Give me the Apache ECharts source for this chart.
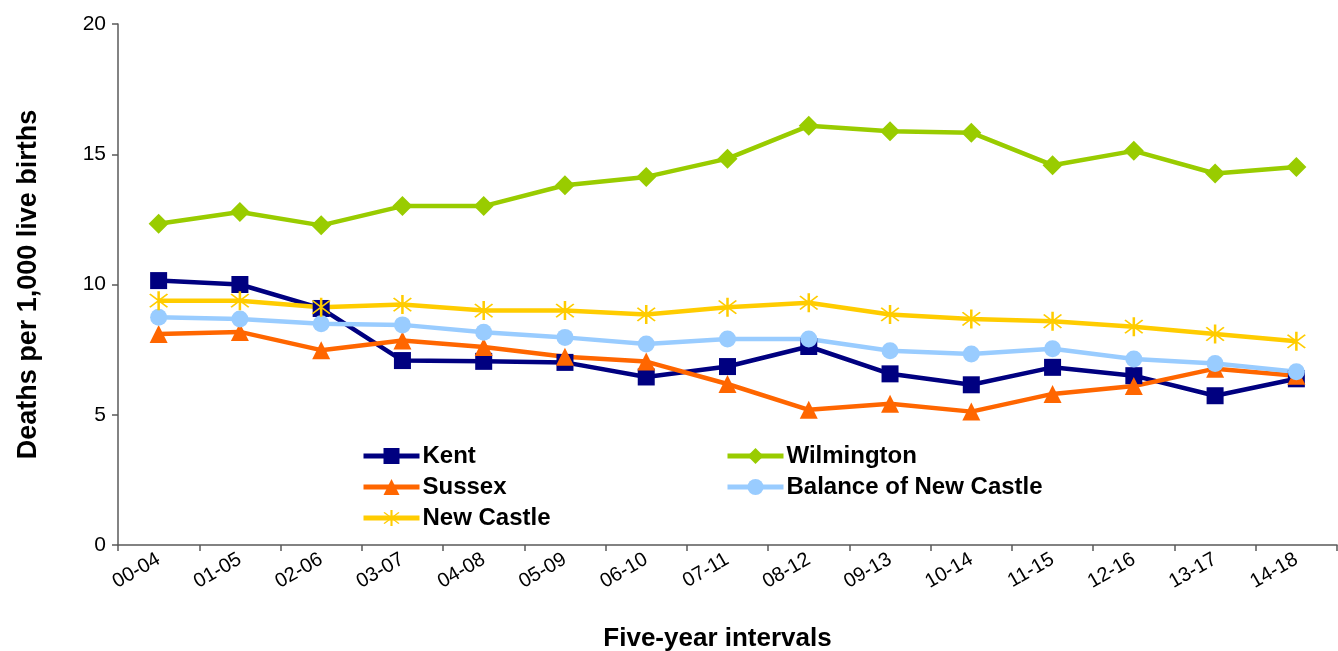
<!DOCTYPE html>
<html>
<head>
<meta charset="utf-8">
<script src="https://cdn.jsdelivr.net/npm/echarts@6/dist/echarts.min.js"></script>
<style>
html,body{margin:0;padding:0;background:#fff;}
#chart{width:1338px;height:651px;}
</style>
</head>
<body>
<div id="chart"></div>
<script>
var categories = ['00-04','01-05','02-06','03-07','04-08','05-09','06-10','07-11','08-12','09-13','10-14','11-15','12-16','13-17','14-18'];
var kent = [10.15, 10.0, 9.08, 7.08, 7.05, 7.01, 6.45, 6.85, 7.62, 6.57, 6.15, 6.82, 6.5, 5.73, 6.38];
var wilmington = [12.33, 12.78, 12.27, 13.01, 13.01, 13.81, 14.13, 14.83, 16.09, 15.88, 15.83, 14.58, 15.13, 14.26, 14.51];
var sussex = [8.1, 8.18, 7.48, 7.85, 7.6, 7.23, 7.04, 6.18, 5.19, 5.42, 5.12, 5.8, 6.1, 6.77, 6.5];
var balanceNewCastle = [8.74, 8.68, 8.49, 8.45, 8.17, 7.97, 7.72, 7.91, 7.91, 7.46, 7.33, 7.53, 7.14, 6.97, 6.65];
var newCastle = [9.38, 9.38, 9.13, 9.23, 9.0, 9.0, 8.85, 9.13, 9.3, 8.85, 8.68, 8.59, 8.38, 8.1, 7.82];
var yTicks = [0, 5, 10, 15, 20];

var FONT = "'Liberation Sans', Arial, sans-serif";
var starPath = 'path://M9 0 L11 0 L11 20 L9 20 Z M3.53 2.47 L17.53 16.47 L16.47 17.53 L2.47 3.53 Z M17.53 3.53 L3.53 17.53 L2.47 16.47 L16.47 2.47 Z';
var AXIS_COLOR = '#5a5a5a';

function mkSeries(name, data, color, symbol, size) {
  return {
    name: name, type: 'line', data: data,
    symbol: symbol, symbolSize: size, showSymbol: true,
    lineStyle: {color: color, width: 4.5},
    itemStyle: {color: color, borderWidth: 0},
    emphasis: {disabled: true},
    animation: false
  };
}

var legendCommon = {
  orient: 'vertical', top: 439,
  itemWidth: 56, itemHeight: 20, itemGap: 7,
  lineStyle: {width: 5},
  textStyle: {fontFamily: FONT, fontSize: 24, fontWeight: 'bold', color: '#000', padding: [0, 0, 0, -2]}
};

var chart = echarts.init(document.getElementById('chart'), null, {renderer: 'canvas'});
chart.setOption({
  backgroundColor: '#ffffff',
  animation: false,
  grid: {left: 118, right: 1, top: 24, bottom: 106, containLabel: false, outerBoundsMode: 'none'},
  legend: [
    Object.assign({}, legendCommon, {data: ['Kent', 'Sussex', 'New Castle'], left: 356}),
    Object.assign({}, legendCommon, {data: ['Wilmington', 'Balance of New Castle'], left: 720})
  ],
  xAxis: {
    type: 'category', data: categories, boundaryGap: true,
    name: 'Five-year intervals', nameLocation: 'middle', nameGap: 81,
    nameTextStyle: {fontFamily: FONT, fontSize: 26, fontWeight: 'bold', color: '#000', padding: [0, 20, 0, 0]},
    axisLine: {lineStyle: {color: AXIS_COLOR, width: 1.5}},
    axisTick: {show: true, length: 6, lineStyle: {color: AXIS_COLOR, width: 1.5}},
    axisLabel: {rotate: 30, fontFamily: FONT, fontSize: 20, color: '#000', margin: 13, interval: 0},
    splitLine: {show: false}
  },
  yAxis: {
    type: 'value', min: yTicks[0], max: yTicks[yTicks.length - 1], interval: 5,
    name: 'Deaths per 1,000 live births', nameLocation: 'middle', nameGap: 76, nameRotate: 90,
    nameTextStyle: {fontFamily: FONT, fontSize: 27, fontWeight: 'bold', color: '#000'},
    axisLine: {show: true, lineStyle: {color: AXIS_COLOR, width: 1.5}},
    axisTick: {show: true, length: 6, lineStyle: {color: AXIS_COLOR, width: 1.5}},
    axisLabel: {fontFamily: FONT, fontSize: 21, color: '#000', margin: 12},
    splitLine: {show: false}
  },
  series: [
    mkSeries('Kent', kent, '#000080', 'rect', 17),
    mkSeries('Wilmington', wilmington, '#99CC00', 'diamond', 20),
    mkSeries('Sussex', sussex, '#FF6600', 'triangle', 18),
    mkSeries('Balance of New Castle', balanceNewCastle, '#99CCFF', 'circle', 17),
    mkSeries('New Castle', newCastle, '#FFCC00', starPath, 19)
  ]
});
</script>
</body>
</html>
